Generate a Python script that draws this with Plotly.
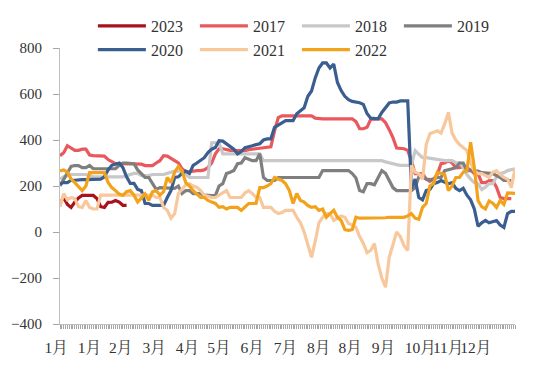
import plotly.graph_objects as go

# ---------------- data ----------------
tick_labels = ["1月", "1月", "2月", "3月", "4月", "5月", "6月", "7月",
               "8月", "8月", "9月", "10月", "11月", "12月"]
label_pos = [0, 9, 17.5, 26.5, 35.5, 44, 53, 62, 71, 79.5, 88.5, 98.5, 106, 113.5]

s2023 = [125, 150, 120, 107, 130, 148, 159, 159, 159, 159, 145, 110, 107, 129, 130, 137, 130, 116, 116]

s2017 = [332, 345, 375, 365, 355, 355, 360, 360, 335, 332,
         332, 332, 330, 315, 305, 297, 297, 297, 297, 297,
         297, 297, 295, 289, 289, 289, 300, 310, 332, 330,
         320, 310, 300, 275, 262, 262, 265, 267, 267, 270,
         280, 300, 340, 362, 362, 358, 355, 354, 354, 354,
         354, 358, 360, 360, 362, 365, 367, 370, 440, 497,
         505, 505, 505, 505, 505, 505, 505, 505, 505, 495,
         492, 492, 492, 492, 492, 492, 492, 492, 492, 492,
         480, 449, 449, 455, 490, 492, 492, 492, 475, 445,
         410, 365, 362, 362, 355, 310, 254, 254, 254, 230,
         220, 230, 250, 297, 300, 310, 300, 280, 280, 285,
         280, 270, 254, 254, 215, 215, 224, 224, 195, 150,
         145, 145, 145]

s2018 = [230, 240, 245, 250, 250, 250, 250, 250, 245, 240,
         240, 240, 240, 240, 240, 240, 240, 240, 245, 250,
         255, 255, 245, 245, 245, 250, 250, 250, 250, 255,
         260, 265, 265, 265, 250, 237, 237, 237, 237, 237,
         237, 388, 388, 388, 340, 340, 340, 340, 340, 340,
         340, 340, 340, 340, 340, 310, 310, 310, 310, 310,
         310, 310, 310, 310, 310, 310, 310, 310, 310, 310,
         310, 310, 310, 310, 310, 310, 310, 310, 310, 310,
         310, 310, 310, 310, 310, 310, 310, 310, 305, 300,
         297, 293, 290, 290, 290, 290, 354, 340, 323, 323,
         320, 318, 315, 312, 310, 310, 310, 301, 301, 280,
         250, 230, 215, 210, 185, 195, 210, 210, 240, 254,
         258, 267, 270, 275]

s2019 = [200, 230, 258, 285, 289, 289, 280, 280, 289, 275,
         275, 275, 275, 275, 275, 275, 290, 300, 300, 297,
         297, 270, 254, 237, 237, 210, 185, 193, 193, 193,
         193, 190, 200, 167, 180, 180, 167, 167, 167, 160,
         158, 158, 158, 200, 210, 254, 260, 267, 297, 300,
         323, 315, 310, 310, 340, 237, 224, 224, 224, 237,
         237, 237, 237, 237, 237, 237, 237, 237, 237, 237,
         237, 267, 267, 267, 267, 267, 267, 267, 267, 254,
         235, 180, 175, 210, 210, 205, 237, 267, 255, 224,
         193, 180, 180, 180, 180, 180, 193, 240, 240, 230,
         228, 230, 237, 237, 267, 270, 275, 280, 300, 300,
         267, 267, 267, 265, 258, 256, 254, 254, 245, 237,
         224, 224, 224]

s2020 = [210, 215, 215, 225, 225, 228, 228, 228, 228, 228,
         228, 230, 240, 270, 290, 295, 300, 280, 240, 211,
         211, 185, 180, 124, 124, 116, 116, 116, 116, 150,
         180, 237, 240, 255, 265, 255, 290, 300, 310, 323,
         345, 360, 367, 397, 395, 384, 375, 360, 340, 350,
         367, 370, 375, 380, 384, 400, 405, 405, 455, 465,
         475, 484, 484, 484, 514, 525, 540, 590, 613, 670,
         713, 735, 735, 713, 730, 650, 615, 590, 575, 568,
         565, 562, 555, 515, 495, 492, 492, 520, 540, 561,
         565, 565, 570, 570, 570, 190, 230, 150, 140, 180,
         185, 210, 215, 224, 215, 210, 215, 190, 180, 190,
         160, 140, 100, 25, 40, 50, 40, 45, 50, 30,
         20, 80, 90, 90]

s2021 = [110, 167, 140, 150, 145, 110, 107, 137, 107, 100,
         100, 160, 160, 160, 160, 160, 160, 160, 160, 160,
         160, 160, 160, 160, 160, 160, 150, 150, 107, 94,
         60, 80, 167, 185, 205, 210, 200, 195, 180, 160,
         155, 150, 150, 160, 167, 180, 150, 150, 150, 150,
         170, 180, 167, 150, 150, 107, 107, 107, 90, 80,
         85, 94, 94, 94, 64, 40, 0, -60, -110, -40,
         40, 64, 80, 80, 50, 60, 70, 64, 37, 30,
         20, -20, -50, -90, -80, -50, -140, -200, -240, -110,
         -50, 0, -20, -60, -80, 290, 260, 254, 230, 380,
         427, 435, 440, 430, 470, 520, 430, 400, 380, 367,
         354, 300, 265, 254, 254, 245, 237, 260, 267, 250,
         237, 230, 193, 275]

s2022 = [265, 270, 260, 230, 215, 195, 180, 200, 258, 258,
         258, 258, 258, 215, 193, 180, 165, 159, 175, 180,
         160, 130, 150, 165, 137, 175, 180, 160, 175, 237,
         215, 260, 285, 265, 215, 200, 180, 167, 150, 150,
         137, 130, 124, 107, 110, 100, 107, 107, 107, 94,
         110, 124, 124, 124, 193, 193, 200, 210, 237, 230,
         224, 210, 180, 124, 167, 137, 130, 115, 107, 110,
         94, 100, 64, 80, 94, 64, 50, 10, 7, 10,
         64, 60, 60, 62, 62, 60, 60, 62, 62, 64,
         64, 64, 64, 64, 70, 80, 60, 55, 107, 124,
         200, 210, 260, 254, 250, 180, 200, 237, 237, 260,
         267, 390, 280, 137, 110, 100, 135, 125, 107, 137,
         120, 170, 168, 168]

series = [("2023", s2023, "#A8121C"),
          ("2017", s2017, "#E8585C"),
          ("2018", s2018, "#C8C8C8"),
          ("2019", s2019, "#7F7F7F"),
          ("2020", s2020, "#3A5E8F"),
          ("2021", s2021, "#F8C89C"),
          ("2022", s2022, "#F2A31B")]

FONT = "'Liberation Serif', 'Times New Roman', 'Noto Serif CJK SC', 'Noto Sans CJK SC', serif"

fig = go.Figure()
for name, vals, color in series:
    fig.add_trace(go.Scatter(
        x=list(range(len(vals))), y=vals, name=name, mode="lines",
        line=dict(color=color, width=3.2), hoverinfo="skip"))

# tick marks at every half step, labels only at label positions
n_last = len(s2020) - 1
all_ticks = [k * 0.5 for k in range(int(n_last * 2) + 1)]
lab = dict(zip(label_pos, tick_labels))
tick_text = [lab.get(t, "") for t in all_ticks]

# the page body has an 8px default margin, so the canvas is 16px smaller
fig.update_layout(
    width=534, height=366,
    margin=dict(l=52, r=27, t=40, b=50, autoexpand=False),
    paper_bgcolor="white", plot_bgcolor="white",
    font=dict(family=FONT, color="#333333", size=15),
    showlegend=True,
    legend=dict(orientation="h", xref="container", yref="container",
                x=0.159, y=0.9975, xanchor="left", yanchor="top",
                entrywidth=39, entrywidthmode="pixels",
                itemwidth=48,
                font=dict(family=FONT, size=16, color="#333333"),
                bgcolor="rgba(0,0,0,0)", tracegroupgap=0),
    xaxis=dict(range=[0, n_last], tickmode="array", tickvals=all_ticks,
               ticktext=tick_text, ticks="outside", ticklen=4,
               tickcolor="#A6A6A6", tickwidth=1, tickangle=0,
               showline=True, linecolor="#BFBFBF", linewidth=1,
               showgrid=False, zeroline=False, ticklabelshift=-4,
               ticklabelstandoff=5,
               tickfont=dict(family=FONT, size=15.5, color="#333333")),
    yaxis=dict(range=[-400, 800], tickvals=[-400, -200, 0, 200, 400, 600, 800],
               ticks="outside", ticklen=6, tickcolor="#A6A6A6",
               showline=True, linecolor="#BFBFBF", linewidth=1,
               showgrid=False, zeroline=False, ticklabelstandoff=8,
               tickfont=dict(family=FONT, size=15, color="#333333")),
)

fig.write_html("out.html")
